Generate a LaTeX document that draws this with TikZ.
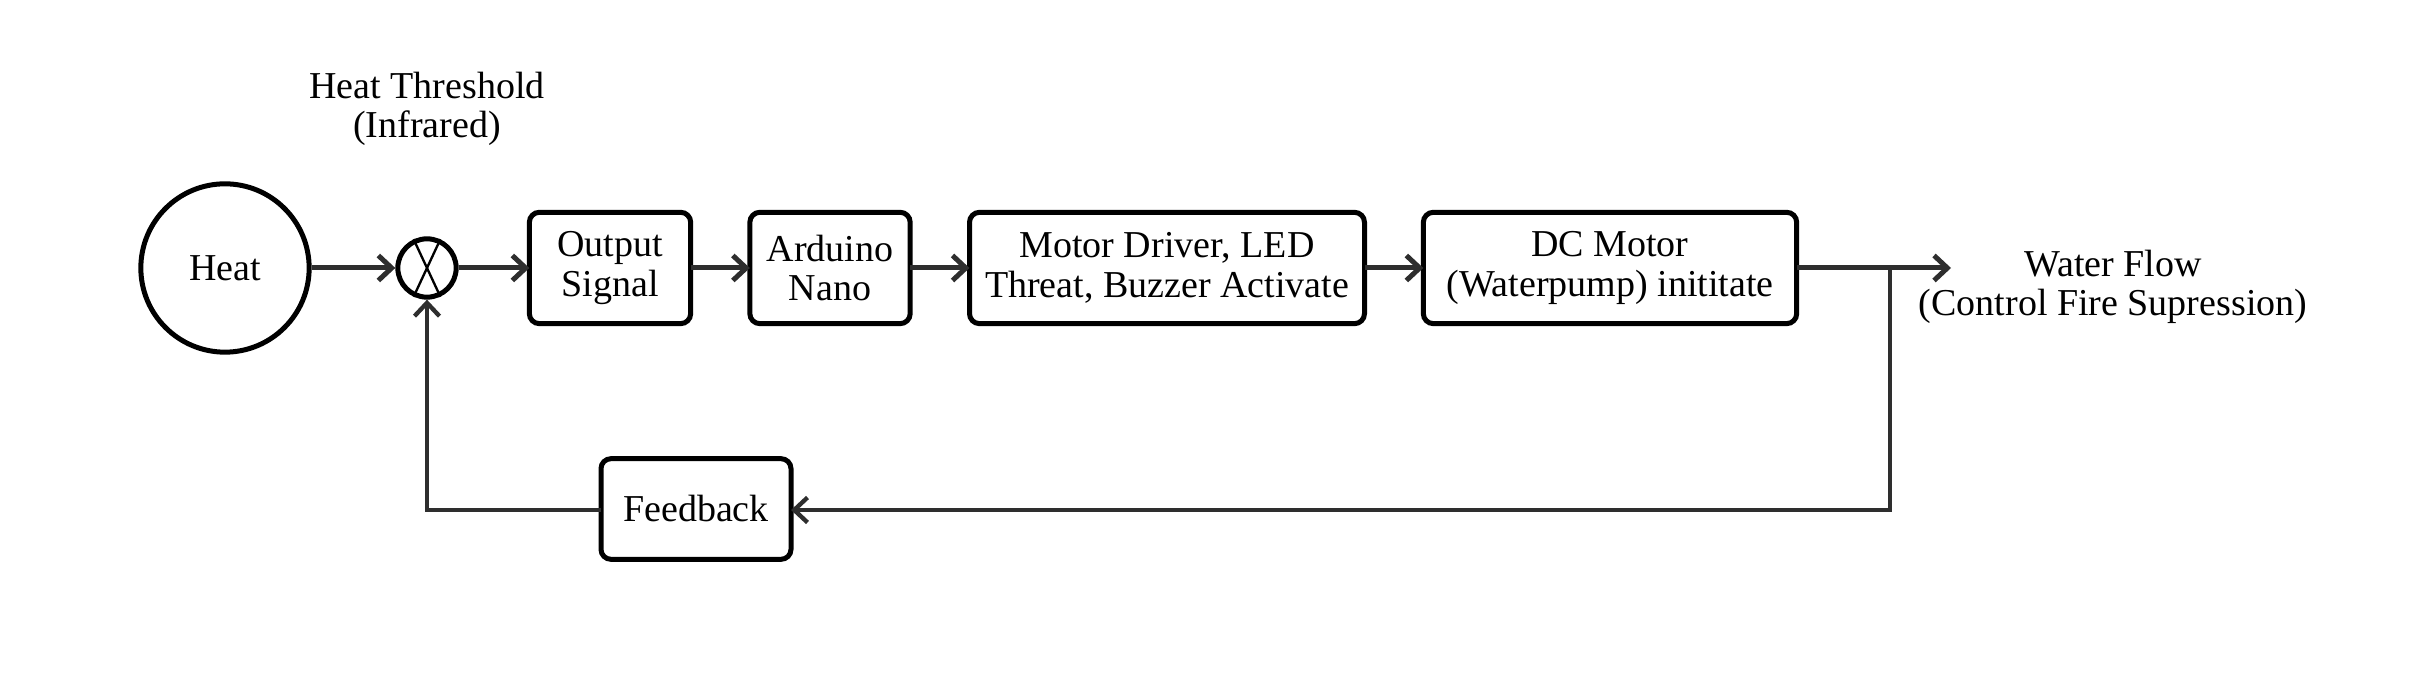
\documentclass[tikz,border=0pt]{standalone}
\usepackage{fontspec}
\setmainfont{Liberation Serif}
\usetikzlibrary{arrows.meta}
\definecolor{linec}{HTML}{2E2E2E}
\begin{document}
\begin{tikzpicture}[x=0.3pt,y=-0.3pt,
  txt/.style={align=center,inner sep=0pt,font=\fontsize{11.4}{11.8}\selectfont},
  blk/.style={txt,draw=black,line width=1.5pt,rounded corners=3pt,outer sep=0pt},
  sig/.style={draw=linec,line width=1.5pt,-{Straight Barb[length=4pt,width=7.5pt,line width=1.5pt]}},
  fbl/.style={draw=linec,line width=1.1pt},
  fba/.style={fbl,-{Straight Barb[length=4pt,width=7.5pt,line width=1.3pt]}}]
\useasboundingbox (0,0) rectangle (2436,676);
\node[txt,circle,draw=black,line width=1.5pt,minimum size=50.5pt] (heat) at (225,268) {Heat};
\node[circle,draw=black,line width=1.5pt,minimum size=17.5pt,inner sep=0pt] (sum) at (427,268) {};
\draw[line width=0.7pt] (sum.115) -- (sum.295) (sum.65) -- (sum.245);
\node[txt] (thr) at (427,109) {Heat Threshold\\(Infrared)};
\node[blk,minimum width=48.4pt,minimum height=33.4pt] (out) at (610,268) {Output\\Signal};
\node[blk,minimum width=48.1pt,minimum height=33.4pt] (ard) at (830,268) {Arduino\\Nano};
\node[blk,minimum width=118.5pt,minimum height=33.4pt] (mot) at (1167,268) {Motor Driver, LED\\Threat, Buzzer Activate};
\node[blk,minimum width=112pt,minimum height=33.4pt] (dcm) at (1610,268) {DC Motor\\(Waterpump) inititate};
\node[blk,minimum width=57pt,minimum height=30.2pt] (fb) at (696,509) {Feedback};
\node[txt] (wf) at (2113,287) {Water Flow\\(Control Fire Supression)};
\coordinate (tip) at (1951,268);
\coordinate (br) at (1890,268);
\coordinate (brd) at (1890,510);
\coordinate (fbl) at (427,510);
\draw[sig] (heat) -- (sum);
\draw[sig] (sum) -- (out);
\draw[sig] (out) -- (ard);
\draw[sig] (ard) -- (mot);
\draw[sig] (mot) -- (dcm);
\draw[sig] (dcm) -- (tip);
\draw[fba] (br) -- (brd) -- (fb.east |- brd);
\draw[fba] (fb.west |- fbl) -- (fbl) -- (sum.south);
\end{tikzpicture}
\end{document}
